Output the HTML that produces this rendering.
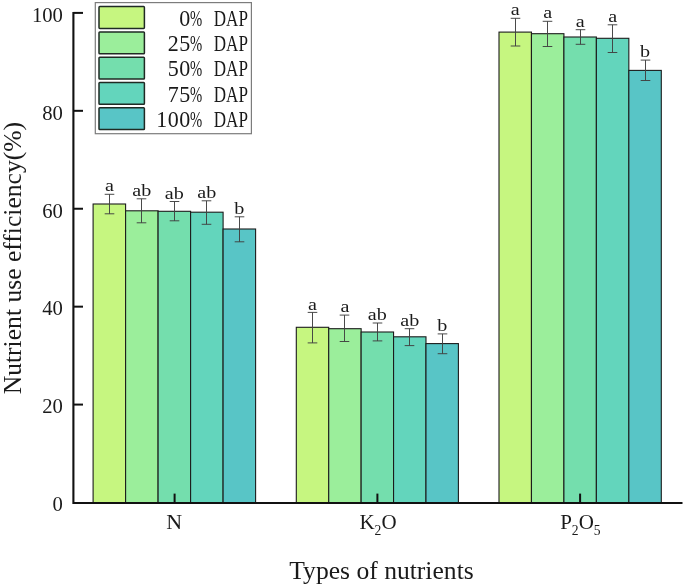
<!DOCTYPE html>
<html lang="en"><head><meta charset="utf-8"><title>Nutrient use efficiency</title>
<style>html,body{margin:0;padding:0;background:#fff}body{width:685px;height:588px;overflow:hidden}svg{display:block}text{font-family:"Liberation Serif","Noto Serif CJK SC",serif;fill:#1a1a1a}</style></head><body>
<svg width="685" height="588" viewBox="0 0 685 588">
<rect width="685" height="588" fill="#fff"/>
<rect x="93.10" y="204.00" width="32.50" height="299.00" fill="#c6f680" stroke="#1c1c1c" stroke-width="1.1"/>
<rect x="125.60" y="210.80" width="32.50" height="292.20" fill="#9bee9b" stroke="#1c1c1c" stroke-width="1.1"/>
<rect x="158.10" y="211.30" width="32.50" height="291.70" fill="#74dead" stroke="#1c1c1c" stroke-width="1.1"/>
<rect x="190.60" y="212.20" width="32.50" height="290.80" fill="#63d5bc" stroke="#1c1c1c" stroke-width="1.1"/>
<rect x="223.10" y="229.00" width="32.50" height="274.00" fill="#58c5c6" stroke="#1c1c1c" stroke-width="1.1"/>
<rect x="296.30" y="327.30" width="32.42" height="175.70" fill="#c6f680" stroke="#1c1c1c" stroke-width="1.1"/>
<rect x="328.72" y="328.70" width="32.42" height="174.30" fill="#9bee9b" stroke="#1c1c1c" stroke-width="1.1"/>
<rect x="361.14" y="332.00" width="32.42" height="171.00" fill="#74dead" stroke="#1c1c1c" stroke-width="1.1"/>
<rect x="393.56" y="336.80" width="32.42" height="166.20" fill="#63d5bc" stroke="#1c1c1c" stroke-width="1.1"/>
<rect x="425.98" y="343.60" width="32.42" height="159.40" fill="#58c5c6" stroke="#1c1c1c" stroke-width="1.1"/>
<rect x="499.00" y="32.10" width="32.46" height="470.90" fill="#c6f680" stroke="#1c1c1c" stroke-width="1.1"/>
<rect x="531.46" y="33.70" width="32.46" height="469.30" fill="#9bee9b" stroke="#1c1c1c" stroke-width="1.1"/>
<rect x="563.92" y="37.00" width="32.46" height="466.00" fill="#74dead" stroke="#1c1c1c" stroke-width="1.1"/>
<rect x="596.38" y="38.30" width="32.46" height="464.70" fill="#63d5bc" stroke="#1c1c1c" stroke-width="1.1"/>
<rect x="628.84" y="70.40" width="32.46" height="432.60" fill="#58c5c6" stroke="#1c1c1c" stroke-width="1.1"/>
<path d="M109.50 194.30V213.80M104.70 194.30h9.6M104.70 213.80h9.6" fill="none" stroke="#404040" stroke-width="0.95"/>
<text transform="translate(109.35 191.40) scale(1.15 1)" font-size="17.5" text-anchor="middle" fill="#3a3a3a">a</text>
<path d="M141.50 198.80V222.80M136.70 198.80h9.6M136.70 222.80h9.6" fill="none" stroke="#404040" stroke-width="0.95"/>
<text transform="translate(141.85 195.90) scale(1.15 1)" font-size="17.5" text-anchor="middle" fill="#3a3a3a">ab</text>
<path d="M174.50 201.50V220.80M169.70 201.50h9.6M169.70 220.80h9.6" fill="none" stroke="#404040" stroke-width="0.95"/>
<text transform="translate(174.35 198.60) scale(1.15 1)" font-size="17.5" text-anchor="middle" fill="#3a3a3a">ab</text>
<path d="M206.50 200.80V224.30M201.70 200.80h9.6M201.70 224.30h9.6" fill="none" stroke="#404040" stroke-width="0.95"/>
<text transform="translate(206.85 197.90) scale(1.15 1)" font-size="17.5" text-anchor="middle" fill="#3a3a3a">ab</text>
<path d="M239.50 216.80V241.80M234.70 216.80h9.6M234.70 241.80h9.6" fill="none" stroke="#404040" stroke-width="0.95"/>
<text transform="translate(239.35 213.90) scale(1.15 1)" font-size="17.5" text-anchor="middle" fill="#3a3a3a">b</text>
<path d="M312.50 312.40V342.90M307.70 312.40h9.6M307.70 342.90h9.6" fill="none" stroke="#404040" stroke-width="0.95"/>
<text transform="translate(312.51 309.50) scale(1.15 1)" font-size="17.5" text-anchor="middle" fill="#3a3a3a">a</text>
<path d="M344.50 315.10V341.50M339.70 315.10h9.6M339.70 341.50h9.6" fill="none" stroke="#404040" stroke-width="0.95"/>
<text transform="translate(344.93 312.20) scale(1.15 1)" font-size="17.5" text-anchor="middle" fill="#3a3a3a">a</text>
<path d="M377.50 323.00V340.90M372.70 323.00h9.6M372.70 340.90h9.6" fill="none" stroke="#404040" stroke-width="0.95"/>
<text transform="translate(377.35 320.10) scale(1.15 1)" font-size="17.5" text-anchor="middle" fill="#3a3a3a">ab</text>
<path d="M409.50 328.70V345.60M404.70 328.70h9.6M404.70 345.60h9.6" fill="none" stroke="#404040" stroke-width="0.95"/>
<text transform="translate(409.77 325.80) scale(1.15 1)" font-size="17.5" text-anchor="middle" fill="#3a3a3a">ab</text>
<path d="M442.50 333.90V353.70M437.70 333.90h9.6M437.70 353.70h9.6" fill="none" stroke="#404040" stroke-width="0.95"/>
<text transform="translate(442.19 331.00) scale(1.15 1)" font-size="17.5" text-anchor="middle" fill="#3a3a3a">b</text>
<path d="M515.50 18.30V46.00M510.70 18.30h9.6M510.70 46.00h9.6" fill="none" stroke="#404040" stroke-width="0.95"/>
<text transform="translate(515.23 15.40) scale(1.15 1)" font-size="17.5" text-anchor="middle" fill="#3a3a3a">a</text>
<path d="M547.50 21.30V46.50M542.70 21.30h9.6M542.70 46.50h9.6" fill="none" stroke="#404040" stroke-width="0.95"/>
<text transform="translate(547.69 18.40) scale(1.15 1)" font-size="17.5" text-anchor="middle" fill="#3a3a3a">a</text>
<path d="M580.50 29.70V44.30M575.70 29.70h9.6M575.70 44.30h9.6" fill="none" stroke="#404040" stroke-width="0.95"/>
<text transform="translate(580.15 26.80) scale(1.15 1)" font-size="17.5" text-anchor="middle" fill="#3a3a3a">a</text>
<path d="M612.50 24.80V52.50M607.70 24.80h9.6M607.70 52.50h9.6" fill="none" stroke="#404040" stroke-width="0.95"/>
<text transform="translate(612.61 21.90) scale(1.15 1)" font-size="17.5" text-anchor="middle" fill="#3a3a3a">a</text>
<path d="M645.50 60.10V80.50M640.70 60.10h9.6M640.70 80.50h9.6" fill="none" stroke="#404040" stroke-width="0.95"/>
<text transform="translate(645.07 57.20) scale(1.15 1)" font-size="17.5" text-anchor="middle" fill="#3a3a3a">b</text>
<path d="M73.4 12V504M72.35 503H682.5" fill="none" stroke="#111" stroke-width="2.1"/>
<path d="M73.35 404.58H83" stroke="#111" stroke-width="2"/>
<path d="M73.35 306.66H83" stroke="#111" stroke-width="2"/>
<path d="M73.35 208.74H83" stroke="#111" stroke-width="2"/>
<path d="M73.35 110.82H83" stroke="#111" stroke-width="2"/>
<path d="M73.35 12.90H83" stroke="#111" stroke-width="2"/>
<path d="M174.60 503V493.6" stroke="#111" stroke-width="2"/>
<path d="M377.40 503V493.6" stroke="#111" stroke-width="2"/>
<path d="M580.10 503V493.6" stroke="#111" stroke-width="2"/>
<text transform="translate(62.9 511.30) scale(0.94 1)" font-size="22" text-anchor="end">0</text>
<text transform="translate(62.9 413.38) scale(0.94 1)" font-size="22" text-anchor="end">20</text>
<text transform="translate(62.9 315.46) scale(0.94 1)" font-size="22" text-anchor="end">40</text>
<text transform="translate(62.9 217.54) scale(0.94 1)" font-size="22" text-anchor="end">60</text>
<text transform="translate(62.9 119.62) scale(0.94 1)" font-size="22" text-anchor="end">80</text>
<text transform="translate(62.9 21.70) scale(0.94 1)" font-size="22" text-anchor="end">100</text>
<text x="174.3" y="529.3" font-size="22" text-anchor="middle">N</text>
<text x="378" y="529.3" font-size="21" text-anchor="middle">K<tspan font-size="13.6" dy="5.3">2</tspan><tspan dy="-5.3">O</tspan></text>
<text x="580.4" y="529.3" font-size="21" text-anchor="middle">P<tspan font-size="13.6" dy="5.3">2</tspan><tspan dy="-5.3">O</tspan><tspan font-size="13.6" dy="5.3">5</tspan></text>
<text x="381.5" y="579.3" font-size="25.6" text-anchor="middle">Types of nutrients</text>
<text transform="translate(20.8 258.1) rotate(-90)" font-size="25.6" text-anchor="middle">Nutrient use efficiency(%)</text>
<rect x="95.3" y="2.6" width="156.1" height="131.1" fill="#fff" stroke="#7c7c7c" stroke-width="1.2"/>
<rect x="99" y="6.60" width="45.4" height="21.8" rx="0.8" fill="#c6f680" stroke="#1f2a24" stroke-width="1.5"/>
<text transform="translate(0 25.60) scale(1 1.05)" font-size="22"><tspan x="179.22">0</tspan><tspan x="190.07" textLength="12.2" lengthAdjust="spacingAndGlyphs">%</tspan> <tspan x="213.77" textLength="34.2" lengthAdjust="spacingAndGlyphs">DAP</tspan></text>
<rect x="99" y="31.90" width="45.4" height="21.8" rx="0.8" fill="#9bee9b" stroke="#1f2a24" stroke-width="1.5"/>
<text transform="translate(0 50.93) scale(1 1.05)" font-size="22"><tspan x="167.77 179.22">25</tspan><tspan x="190.07" textLength="12.2" lengthAdjust="spacingAndGlyphs">%</tspan> <tspan x="213.77" textLength="34.2" lengthAdjust="spacingAndGlyphs">DAP</tspan></text>
<rect x="99" y="57.20" width="45.4" height="21.8" rx="0.8" fill="#74dead" stroke="#1f2a24" stroke-width="1.5"/>
<text transform="translate(0 76.26) scale(1 1.05)" font-size="22"><tspan x="167.77 179.22">50</tspan><tspan x="190.07" textLength="12.2" lengthAdjust="spacingAndGlyphs">%</tspan> <tspan x="213.77" textLength="34.2" lengthAdjust="spacingAndGlyphs">DAP</tspan></text>
<rect x="99" y="82.50" width="45.4" height="21.8" rx="0.8" fill="#63d5bc" stroke="#1f2a24" stroke-width="1.5"/>
<text transform="translate(0 101.59) scale(1 1.05)" font-size="22"><tspan x="167.77 179.22">75</tspan><tspan x="190.07" textLength="12.2" lengthAdjust="spacingAndGlyphs">%</tspan> <tspan x="213.77" textLength="34.2" lengthAdjust="spacingAndGlyphs">DAP</tspan></text>
<rect x="99" y="107.80" width="45.4" height="21.8" rx="0.8" fill="#58c5c6" stroke="#1f2a24" stroke-width="1.5"/>
<text transform="translate(0 126.92) scale(1 1.05)" font-size="22"><tspan x="156.32 167.77 179.22">100</tspan><tspan x="190.07" textLength="12.2" lengthAdjust="spacingAndGlyphs">%</tspan> <tspan x="213.77" textLength="34.2" lengthAdjust="spacingAndGlyphs">DAP</tspan></text>
</svg></body></html>
